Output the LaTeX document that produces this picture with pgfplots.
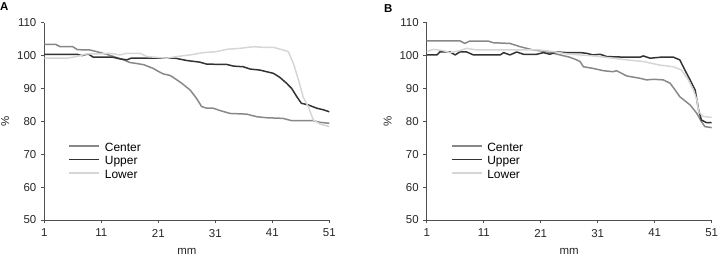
\documentclass[border=0pt]{standalone}
\usepackage{pgfplots}
\pgfplotsset{compat=1.18}
\usepackage{fontspec}
\setmainfont{Liberation Sans}

\definecolor{ccenter}{HTML}{888888}
\definecolor{cupper}{HTML}{333333}
\definecolor{clower}{HTML}{D6D6D6}
\definecolor{caxis}{HTML}{505050}

\pgfplotsset{
  profile/.style={
    scale only axis,
    width=285bp, height=197.3bp,
    xmin=1, xmax=51, ymin=50, ymax=110,
    xtick={1,11,21,31,41,51},
    ytick={50,60,...,110},
    axis x line*=bottom, axis y line*=left,
    axis line style={caxis, line width=0.8pt, -},
    tick style={caxis, line width=0.7pt},
    tick align=outside,
    major tick length=3.5bp,
    tick label style={font=\fontsize{11.5}{13}\selectfont, text=black!85},
    xticklabel style={yshift=-2bp},
    yticklabel style={xshift=-1bp},
    /pgf/number format/assume math mode=true,
    xlabel={mm}, ylabel={\%},
    label style={font=\fontsize{11.5}{13}\selectfont, text=black!85},
    xlabel style={at={(axis description cs:0.5,0)}, yshift=-31bp, anchor=center},
    ylabel style={at={(axis description cs:-0.137,0.5)}, anchor=center},
    legend style={draw=none, fill=none, font=\fontsize{12}{14}\selectfont,
      anchor=north west, at={(0.084,0.394)},
      inner sep=0pt, row sep=0pt,
      nodes={inner sep=0pt, text height=9bp, text depth=4.5bp},
      /tikz/every odd column/.append style={column sep=5bp}},
    legend cell align=left,
    legend image code/.code={\draw[#1] (0bp,3.2bp) -- (30bp,3.2bp);},
    clip=false,
  },
  cen/.style={ccenter, line width=1.5pt, line join=round},
  upp/.style={cupper, line width=1.5pt, line join=round},
  low/.style={clower, line width=1.5pt, line join=round},
}

\begin{document}
\begin{tikzpicture}
\useasboundingbox (-44.3bp,-37bp) rectangle (675.7bp,220bp);

% ---------- Panel A ----------
\begin{axis}[profile, at={(0bp,0bp)}]
\addplot[cen] coordinates {
(1,103.4) (3,103.4) (3.8,102.7) (6,102.7) (6.8,101.8) (9,101.7) (10.2,101.2)
(11.9,100.4) (13,99.8) (14.9,98.7) (16,97.9) (17.2,97.6) (18.5,97.2) (20.1,96.1)
(21,95.2) (21.9,94.4) (23,94) (23.6,93.4) (25.1,91.6) (26.6,89.5) (27.7,87)
(28.6,84.5) (29.5,84) (30.6,84) (31.8,83.3) (33.6,82.4) (36.5,82.2) (38.3,81.4)
(40,81.1) (42.9,80.9) (44.4,80.2) (48.2,80.2) (49.4,79.7) (51,79.4)
};
\addplot[upp] coordinates {
(1,100.4) (6.7,100.4) (7.6,100) (8.7,100.5) (9.6,99.5) (13,99.5) (14.3,99)
(15.5,98.7) (16.2,99.2) (24,99.2) (26,98.5) (28.3,98) (29.5,97.4) (33,97.3)
(34.2,96.8) (35.9,96.6) (37.1,95.9) (38.8,95.6) (40,95.1) (41.2,94.6) (42.3,93.4)
(43.5,91.6) (44.4,90) (45.3,87.5) (46.1,85.5) (47.3,85) (48.8,84) (50,83.5) (51,82.9)
};
\addplot[low] coordinates {
(1,99.2) (4.9,99.2) (6.7,99.7) (8.4,100.5) (10.8,100.5) (12.5,100.7) (14.3,100.2)
(15.4,100.7) (17.8,100.7) (19,99.7) (22.5,99.2) (24.2,99.7) (26.6,100.2) (28.9,100.9)
(31.2,101.2) (33,101.9) (35.3,102.2) (37.7,102.7) (39.4,102.5) (41.2,102.5)
(42.9,101.7) (43.8,101.2) (44.7,97.6) (45.6,92.6) (46.4,87.5) (47.3,84.5)
(48.2,80.4) (49.4,79.2) (51,78.4)
};
\legend{Center,Upper,Lower}
\node[anchor=north west, inner sep=0pt, font=\bfseries\fontsize{11.5}{13}\selectfont]
  at (rel axis cs:0,1) [xshift=-44.3bp, yshift=20.7bp] {A};
\end{axis}

% ---------- Panel B ----------
\begin{axis}[profile, at={(382.4bp,0bp)}]
\addplot[cen] coordinates {
(1,104.5) (6.8,104.5) (7.7,103.7) (8.5,104.4) (11.8,104.4) (12.7,103.9)
(15.6,103.7) (17.4,102.7) (19.7,101.7) (22,101.2) (24.4,100.2) (26.1,99.5)
(27.3,98.7) (27.9,98.2) (28.5,96.6) (30.2,96.1) (32,95.4) (33.7,95.1) (34.3,95.4)
(36.1,93.8) (38.4,93.1) (39.6,92.6) (40.8,92.8) (42.5,92.6) (43.7,91.6)
(44.6,89.5) (45.4,87.5) (47.2,85) (48.4,82.4) (49.2,79.9) (49.8,78.4) (51,78.1)
};
\addplot[upp] coordinates {
(1,100.2) (2.8,100.2) (3.3,101.1) (5.1,101.1) (6,100.2) (6.8,101.1) (8,101.1)
(9.2,100.2) (13.9,100.2) (14.5,100.9) (15.6,100.2) (16.8,101.1) (18,100.4)
(20.3,100.4) (21.5,100.9) (22.6,100.4) (23.8,101.1) (25.6,100.9) (28,100.9)
(29,100.7) (30.2,100.2) (31.4,100.4) (32.6,99.7) (36.1,99.5) (38.4,99.5)
(39,99.9) (40.2,99.2) (42,99.5) (44.3,99.5) (45.4,98.7) (46.3,95.6) (47.2,92.6)
(48.1,89.5) (48.7,83.5) (49.2,80.4) (50.1,79.6) (51,79.6)
};
\addplot[low] coordinates {
(1,101.2) (2.2,101.9) (3.9,101.5) (5.1,100.9) (6.8,101.5) (8,102.2) (9.8,101.7)
(12.7,101.7) (18.5,101.7) (20.9,101.7) (23.2,101.2) (25.6,100.5) (30.2,99.9)
(33.7,99.2) (36.1,98.7) (39,98.2) (41.9,97.1) (44.3,96.6) (45.7,95.6) (46.9,92.6)
(47.8,89.5) (48.4,86.5) (48.7,83) (49.5,81.5) (51,81.2)
};
\legend{Center,Upper,Lower}
\node[anchor=north west, inner sep=0pt, font=\bfseries\fontsize{11.5}{13}\selectfont]
  at (rel axis cs:0,1) [xshift=-42.7bp, yshift=18.7bp] {B};
\end{axis}
\end{tikzpicture}
\end{document}
